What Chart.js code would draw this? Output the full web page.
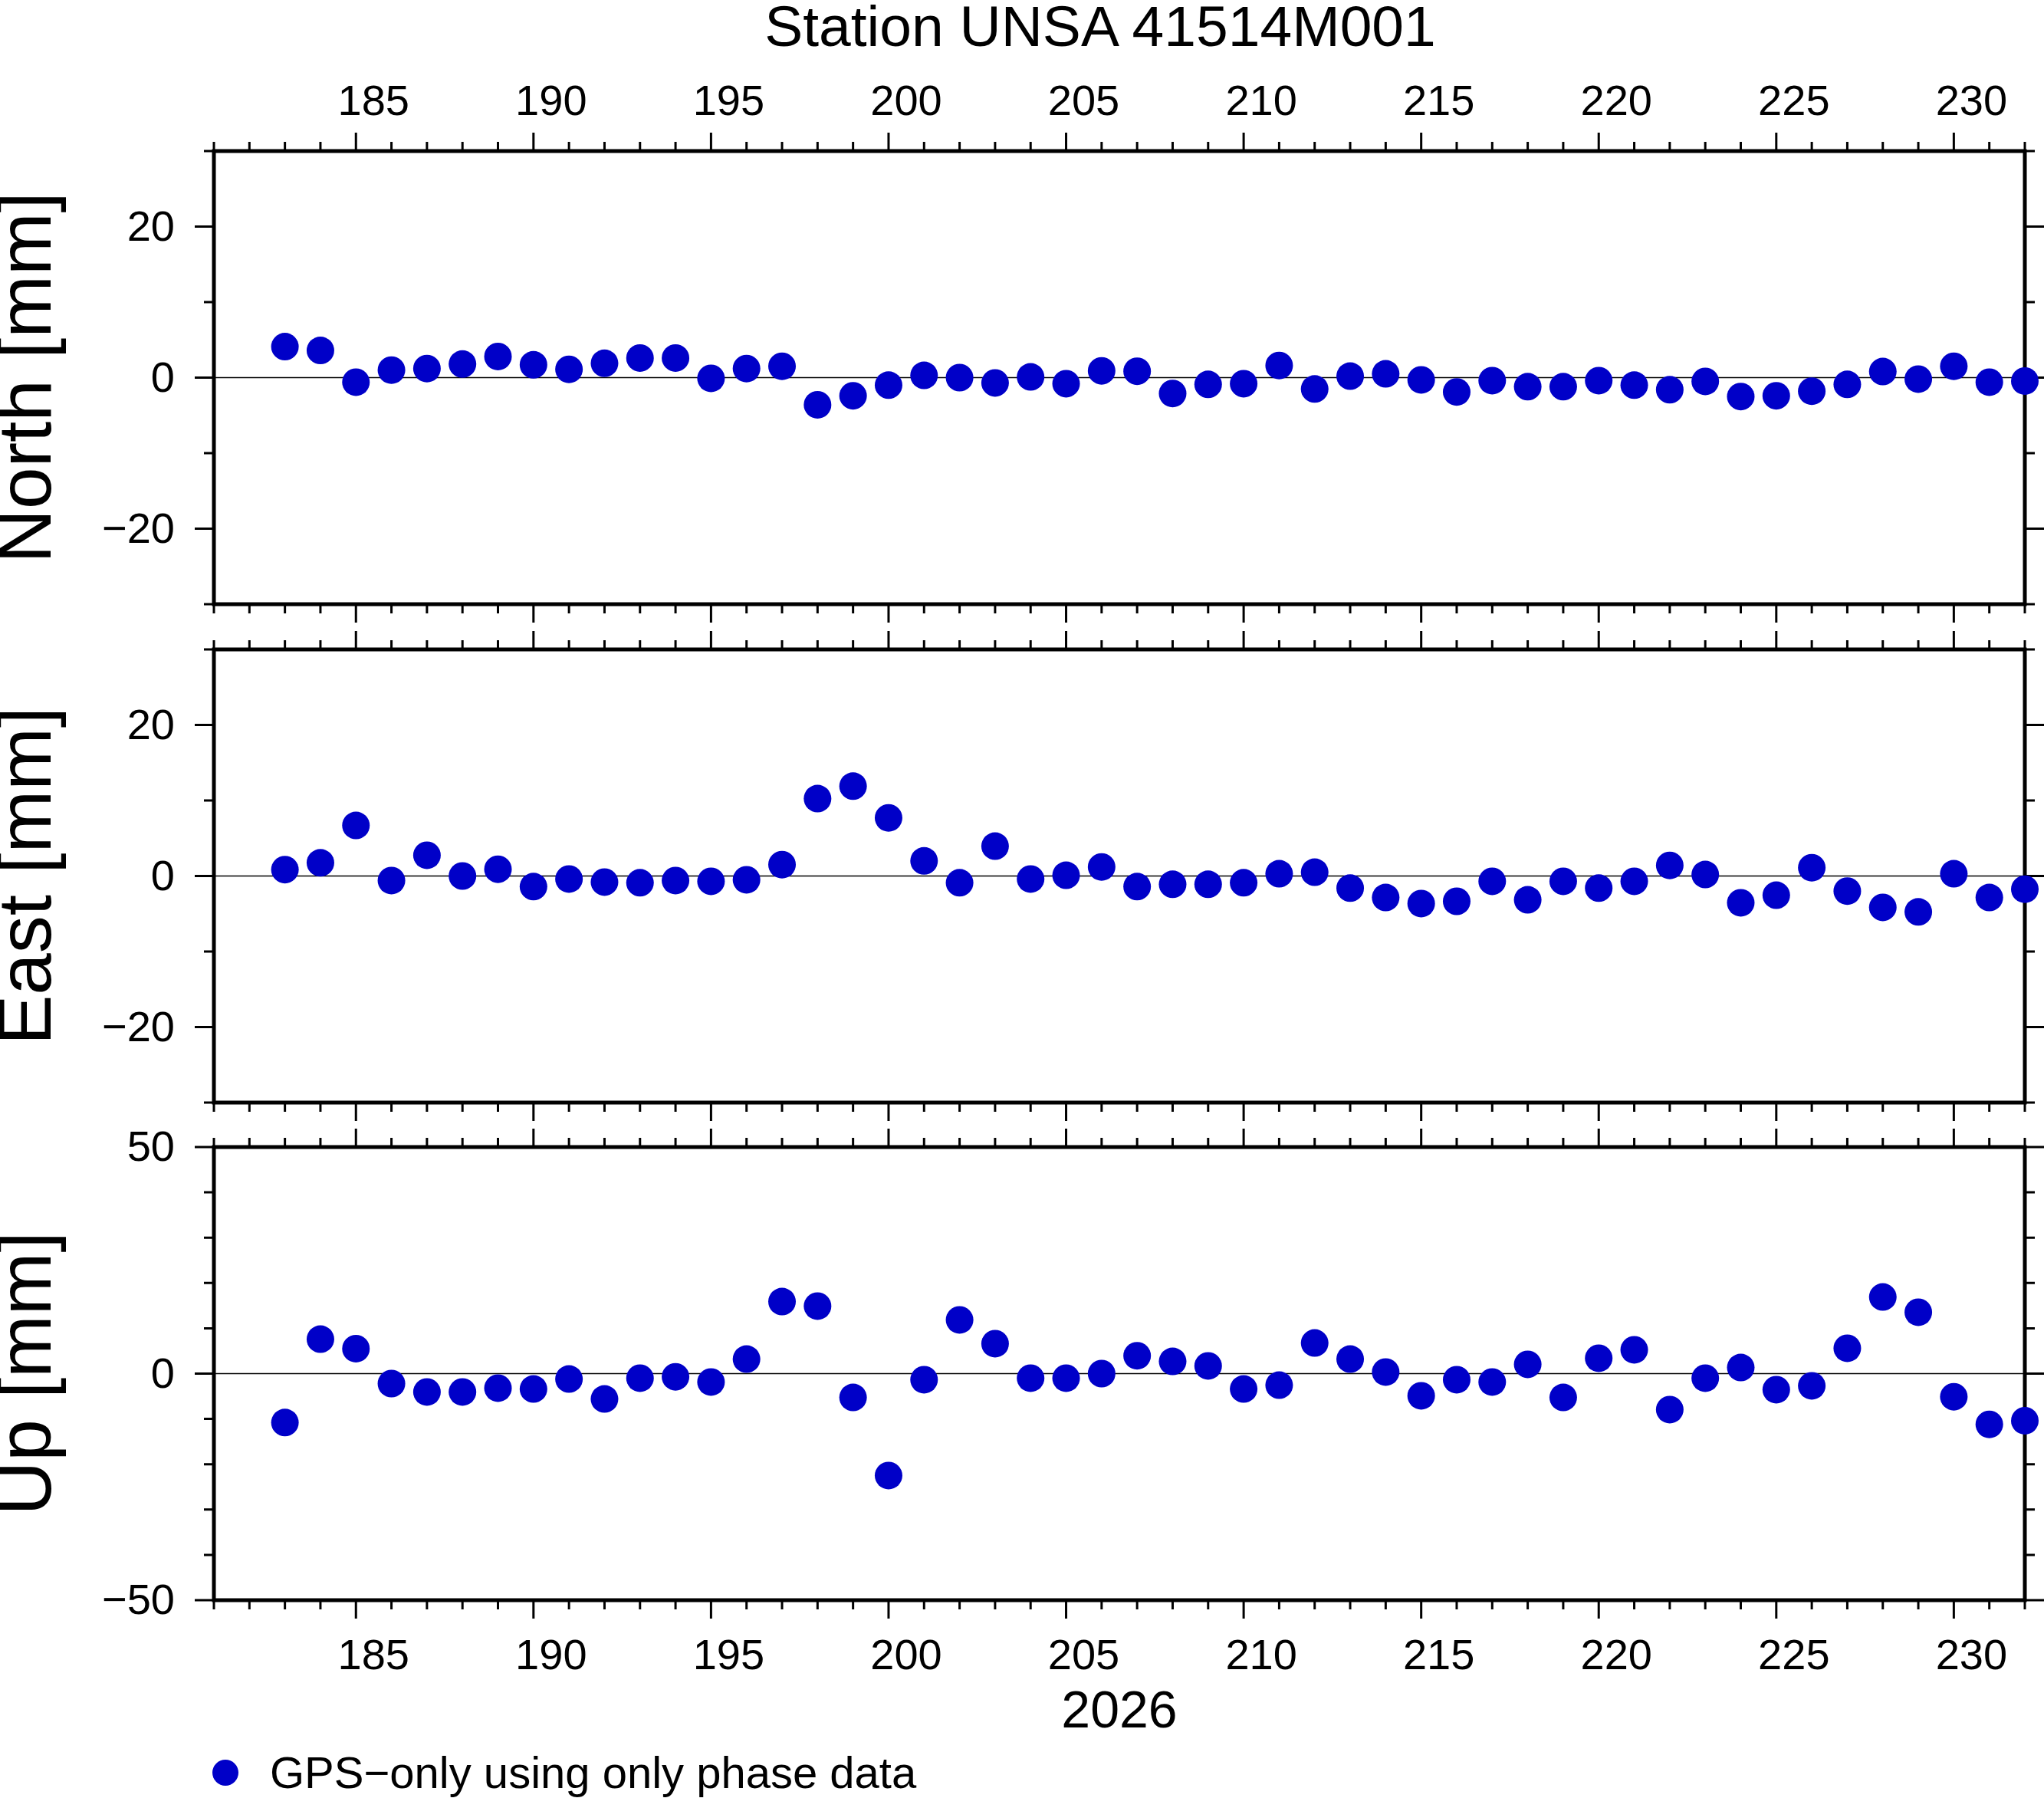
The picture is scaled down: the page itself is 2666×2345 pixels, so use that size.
<!DOCTYPE html>
<html>
<head>
<meta charset="utf-8">
<title>Station UNSA 41514M001</title>
<script src="https://cdn.jsdelivr.net/npm/chart.js@4.4.1/dist/chart.umd.min.js"></script>
<style>
  html, body { margin: 0; padding: 0; background: #fff; }
  #wrap { position: relative; width: 2666px; height: 2345px; overflow: hidden;
          font-family: "Liberation Sans", Arial, sans-serif; color: #000; }
  #wrap canvas { position: absolute; left: 0; top: 0; }
  #title { position: absolute; left: 1435px; top: -3px; transform: translateX(-50%);
           font-size: 75px; line-height: 75px; white-space: nowrap; }
  #legendDot { position: absolute; left: 277px; top: 2295px; width: 34px; height: 34px;
               border-radius: 50%; background: rgb(0, 0, 200); }
  #legendText { position: absolute; left: 352px; top: 2283px; font-size: 58px;
                line-height: 58px; white-space: nowrap; }
</style>
</head>
<body>
<div id="wrap">
  <div id="title">Station UNSA 41514M001</div>
  <canvas id="northChart" width="2666" height="2345"></canvas>
  <canvas id="eastChart" width="2666" height="2345"></canvas>
  <canvas id="upChart" width="2666" height="2345"></canvas>
  <div id="legendDot"></div>
  <div id="legendText">GPS&minus;only using only phase data</div>
</div>
<script>
// day of year 2026
const days = [183, 184, 185, 186, 187, 188, 189, 190, 191, 192,
              193, 194, 195, 196, 197, 198, 199, 200, 201, 202,
              203, 204, 205, 206, 207, 208, 209, 210, 211, 212,
              213, 214, 215, 216, 217, 218, 219, 220, 221, 222,
              223, 224, 225, 226, 227, 228, 229, 230, 231, 232]

// residuals in mm
const north = [4.1, 3.6, -0.6, 1.0, 1.2, 1.8, 2.8, 1.7, 1.1, 1.9,
               2.6, 2.6, -0.1, 1.2, 1.5, -3.6, -2.4, -1.0, 0.3, 0.0,
               -0.7, 0.1, -0.8, 0.9, 0.85, -2.1, -0.9, -0.8, 1.6, -1.5,
               0.2, 0.5, -0.3, -1.9, -0.4, -1.2, -1.2, -0.4, -1.0, -1.6,
               -0.5, -2.5, -2.4, -1.8, -0.9, 0.8, -0.2, 1.5, -0.6, -0.45]
const east = [0.85, 1.75, 6.7, -0.6, 2.75, 0.0, 0.9, -1.4, -0.4, -0.8,
              -0.9, -0.6, -0.7, -0.5, 1.5, 10.25, 11.9, 7.7, 2.0, -0.9,
              3.95, -0.4, 0.1, 1.2, -1.4, -1.1, -1.1, -0.9, 0.3, 0.5,
              -1.6, -2.85, -3.65, -3.35, -0.7, -3.15, -0.7, -1.6, -0.7, 1.4,
              0.2, -3.55, -2.55, 1.1, -2.0, -4.15, -4.75, 0.3, -2.85, -1.75]
const up = [-10.8, 7.6, 5.5, -2.2, -4.05, -4.05, -3.2, -3.4, -1.2, -5.6,
            -1.0, -0.7, -1.85, 3.2, 15.9, 14.9, -5.25, -22.5, -1.35, 11.85,
            6.6, -1.0, -1.0, 0.0, 3.95, 2.7, 1.7, -3.4, -2.55, 6.75,
            3.2, 0.35, -4.9, -1.35, -1.85, 2.05, -5.25, 3.4, 5.25, -7.95,
            -1.0, 1.35, -3.55, -2.7, 5.6, 16.9, 13.55, -5.1, -11.2, -10.4]

// axis ticks
const dayMin = 181
const dayMax = 232
const dayTicks = [185, 190, 195, 200, 205, 210, 215, 220, 225, 230]
const horizTicks = [-20, 0, 20]
const upTicks = [-50, 0, 50]

const dotColor = 'rgb(0, 0, 200)'

Chart.defaults.font.family = '"Liberation Sans", Arial, sans-serif'
Chart.defaults.color = '#000'

// GMT style frame: thick box, outward ticks on all four sides, zero line
const gmtFrame = {
  id: 'gmtFrame',
  beforeDatasetsDraw(chart, args, opts) {
    const ctx = chart.ctx
    const a = chart.chartArea
    const x = chart.scales.x
    const y = chart.scales.y
    ctx.save()
    ctx.strokeStyle = '#000'

    ctx.lineWidth = 1.5
    const y0 = y.getPixelForValue(0)
    ctx.beginPath()
    ctx.moveTo(a.left, y0)
    ctx.lineTo(a.right, y0)
    ctx.stroke()

    ctx.lineWidth = 3
    ctx.beginPath()
    for (let d = x.min; d <= x.max; d++) {
      const px = x.getPixelForValue(d)
      const len = d % 5 === 0 ? 24 : 12
      ctx.moveTo(px, a.top)
      ctx.lineTo(px, a.top - len)
      ctx.moveTo(px, a.bottom)
      ctx.lineTo(px, a.bottom + len)
    }
    for (let v = y.min; v <= y.max; v += 10) {
      const py = y.getPixelForValue(v)
      const len = v % opts.major === 0 ? 25 : 13
      ctx.moveTo(a.left, py)
      ctx.lineTo(a.left - len, py)
      ctx.moveTo(a.right, py)
      ctx.lineTo(a.right + len, py)
    }
    ctx.stroke()

    ctx.lineWidth = 5
    ctx.strokeRect(a.left, a.top, a.right - a.left, a.bottom - a.top)
    ctx.restore()
  }
}

function minus(v) {
  return v < 0 ? '\u2212' + Math.abs(v) : String(v)
}

function makePanel(id, values, cfg) {
  return new Chart(document.getElementById(id), {
    type: 'scatter',
    data: {
      datasets: [{
        label: 'GPS\u2212only using only phase data',
        data: days.map((d, i) => ({ x: d, y: values[i] })),
        backgroundColor: dotColor,
        borderWidth: 0,
        pointRadius: 18,
        pointHoverRadius: 18,
        clip: false
      }]
    },
    options: {
      responsive: false,
      animation: false,
      devicePixelRatio: 1,
      events: [],
      layout: { padding: { top: cfg.padTop, bottom: cfg.padBottom, left: 0, right: 25 } },
      plugins: {
        legend: { display: false },
        tooltip: { enabled: false },
        gmtFrame: { major: cfg.major }
      },
      scales: {
        x: {
          type: 'linear',
          min: dayMin,
          max: dayMax,
          display: cfg.xPos !== null,
          position: cfg.xPos || 'bottom',
          grid: { display: false, drawTicks: false },
          border: { display: false },
          afterBuildTicks: s => { s.ticks = dayTicks.map(v => ({ value: v })) },
          afterFit: s => { s.height = cfg.xHeight },
          ticks: {
            autoSkip: false,
            maxRotation: 0,
            labelOffset: 23,
            padding: cfg.xPad,
            font: { size: 56, lineHeight: 1 }
          },
          title: cfg.xTitle
            ? { display: true, text: cfg.xTitle, font: { size: 68, lineHeight: 1 }, padding: { top: 0, bottom: 77 } }
            : { display: false }
        },
        y: {
          type: 'linear',
          min: cfg.min,
          max: cfg.max,
          grid: { display: false, drawTicks: false },
          border: { display: false },
          afterBuildTicks: s => { s.ticks = cfg.ticks.map(v => ({ value: v })) },
          afterFit: s => { s.width = 279 },
          ticks: {
            padding: 51,
            labelOffset: 3,
            font: { size: 56, lineHeight: 1 },
            callback: v => minus(v)
          },
          title: { display: true, text: cfg.label, font: { size: 98, lineHeight: 0.8 }, padding: 0 }
        }
      }
    },
    plugins: [gmtFrame]
  })
}

makePanel('northChart', north, {
  label: 'North [mm]', min: -30, max: 30, ticks: horizTicks, major: 20,
  xPos: 'top', xHeight: 197, xPad: 34, padTop: 0, padBottom: 1557
})
makePanel('eastChart', east, {
  label: 'East [mm]', min: -30, max: 30, ticks: horizTicks, major: 20,
  xPos: null, xHeight: 0, xPad: 0, padTop: 847, padBottom: 907
})
makePanel('upChart', up, {
  label: 'Up [mm]', min: -50, max: 50, ticks: upTicks, major: 50,
  xPos: 'bottom', xHeight: 258, xPad: 47, xTitle: '2026', padTop: 1496, padBottom: 0
})
</script>
</body>
</html>
